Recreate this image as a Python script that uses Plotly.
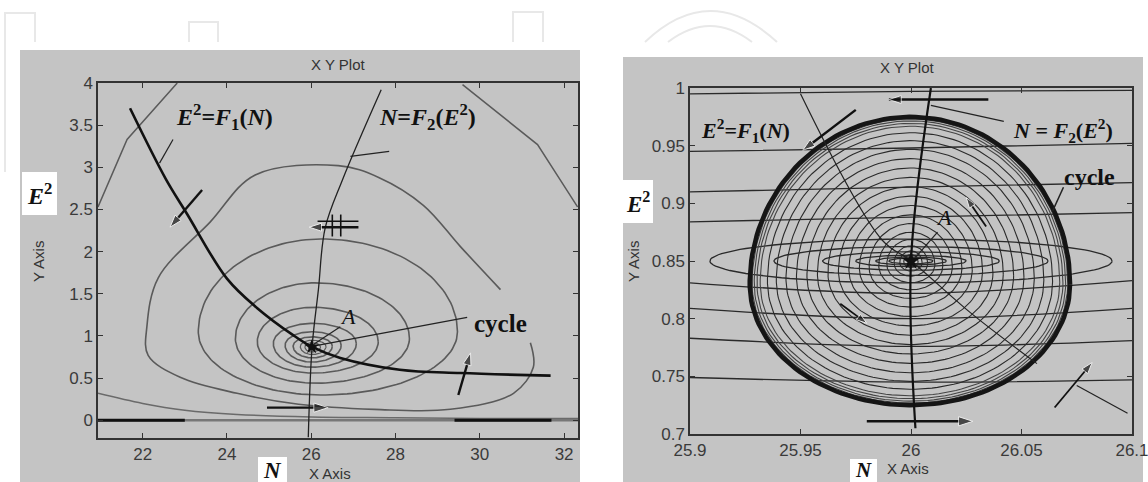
import numpy as np
import plotly.graph_objects as go

W, H = 1148, 482

# ---------------- left panel: phase plane (N, E^2) ----------------
left_xticks = [22, 24, 26, 28, 30, 32]
left_yticks = [0, 0.5, 1, 1.5, 2, 2.5, 3, 3.5, 4]
left_yticklabels = ["0", "0.5", "1", "1.5", "2", "2.5", "3", "3.5", "4"]

# null-cline E^2 = F1(N)
f1_n = [21.7, 22.55, 23.05, 24.0, 24.72, 25.57, 26.02, 26.69, 28.1, 29.54, 31.68]
f1_e = [3.70, 2.86, 2.45, 1.68, 1.33, 1.01, 0.87, 0.74, 0.60, 0.56, 0.53]
# null-cline N = F2(E^2)
f2_n = [25.93, 26.02, 26.17, 26.33, 26.74, 27.66]
f2_e = [-0.20, 0.87, 1.55, 2.28, 2.85, 3.92]

# closed trajectories around A: centre, left, right, bottom, top
loop_cx = [26.25, 26.10, 26.05, 26.03, 26.02, 26.02, 26.02, 26.01, 26.01]
loop_cy = [1.05, 0.97, 0.93, 0.91, 0.89, 0.88, 0.875, 0.87, 0.87]
loop_left = [23.32, 24.20, 24.72, 25.10, 25.38, 25.57, 25.74, 25.85, 25.93]
loop_right = [29.47, 28.33, 27.59, 27.07, 26.71, 26.50, 26.35, 26.22, 26.12]
loop_bottom = [0.30, 0.44, 0.56, 0.63, 0.69, 0.74, 0.78, 0.81, 0.84]
loop_top = [2.15, 1.63, 1.34, 1.15, 1.05, 0.99, 0.95, 0.92, 0.90]

# open trajectories
outer_left_n = [20.94, 21.63, 22.82]
outer_left_e = [2.53, 3.33, 4.0]
outer_right_n = [29.59, 31.37, 32.32]
outer_right_e = [3.98, 3.27, 2.53]
spiral_n = [30.49, 29.54, 28.66, 27.6, 26.64, 24.67, 23.6, 22.37, 22.1, 22.13,
            22.89, 24.24, 25.7, 27.5, 29.3, 30.8, 31.27, 31.2]
spiral_e = [1.55, 2.06, 2.55, 2.88, 3.02, 2.91, 2.35, 1.69, 1.11, 0.77,
            0.51, 0.32, 0.19, 0.13, 0.13, 0.32, 0.63, 0.92]
bottom_n = [20.94, 22.0, 23.0, 24.24, 26.0, 28.0, 30.0, 32.33]
bottom_e = [0.32, 0.20, 0.12, 0.07, 0.04, 0.03, 0.02, 0.02]

# ---------------- right panel: zoom on the limit cycle ----------------
right_xticks = [25.9, 25.95, 26.0, 26.05, 26.1]
right_xticklabels = ["25.9", "25.95", "26", "26.05", "26.1"]
right_yticks = [0.7, 0.75, 0.8, 0.85, 0.9, 0.95, 1.0]
right_yticklabels = ["0.7", "0.75", "0.8", "0.85", "0.9", "0.95", "1"]

# limit cycle: centre of its widest row, left, right, bottom, top
cycle_cx, cycle_cy = 26.0, 0.83
cycle_left, cycle_right = 25.927, 26.072
cycle_bottom, cycle_top = 0.725, 0.975
# relative sizes of the trajectories winding out towards the cycle
inner_scale = [0.985, 0.972, 0.955, 0.935, 0.89, 0.835, 0.775, 0.71, 0.645,
               0.58, 0.515, 0.45, 0.385, 0.32, 0.26, 0.20, 0.15, 0.105, 0.07, 0.045]

# elongated level curves around A
ell_a = [0.091, 0.062, 0.040, 0.025, 0.016, 0.010]
ell_b = [0.019, 0.0125, 0.008, 0.005, 0.0035, 0.0025]
# long, nearly horizontal level curves (height at left edge, middle, right edge)
hl_left = [0.995, 0.945, 0.910, 0.884, 0.831, 0.809, 0.783, 0.749]
hl_mid = [0.997, 0.948, 0.914, 0.888, 0.822, 0.800, 0.776, 0.745]
hl_right = [0.998, 0.952, 0.918, 0.892, 0.833, 0.809, 0.781, 0.747]

# right null-clines
r_f1_n = [25.95, 25.987, 26.0, 26.027, 26.057]
r_f1_e = [0.995, 0.868, 0.85, 0.805, 0.761]
r_f1b_n = [26.075, 26.098]
r_f1b_e = [0.742, 0.718]
r_f2_n = [26.002, 26.0, 26.009]
r_f2_e = [0.705, 0.85, 1.0]

A_left = (26.01, 0.87)
A_right = (26.0, 0.85)

# ---------------- geometry helpers ----------------
def egg(cx, cy, left, right, bottom, top, n=160):
    t = np.linspace(0, 2 * np.pi, n)
    c, s = np.cos(t), np.sin(t)
    x = cx + np.where(c >= 0, right - cx, cx - left) * c
    y = cy + np.where(s >= 0, top - cy, cy - bottom) * s
    return x, y


def ellipse(cx, cy, a, b, n=120):
    t = np.linspace(0, 2 * np.pi, n)
    return cx + a * np.cos(t), cy + b * np.sin(t)


fig = go.Figure()


def line(x, y, xa, ya, color="#555555", width=1.5, shape="spline"):
    fig.add_trace(go.Scatter(x=x, y=y, xaxis=xa, yaxis=ya, mode="lines",
                             line=dict(color=color, width=width, shape=shape,
                                       smoothing=1.0),
                             hoverinfo="skip", showlegend=False))


def arrow(xa, ya, tx, ty, hx, hy, size=13, width=2.4):
    # shaft plus a triangular head oriented along the shaft
    fig.add_trace(go.Scatter(x=[tx, hx], y=[ty, hy], xaxis=xa, yaxis=ya,
                             mode="lines+markers",
                             line=dict(color="#111111", width=width),
                             marker=dict(symbol="arrow", size=[0, size],
                                         angleref="previous",
                                         color="#111111"),
                             hoverinfo="skip", showlegend=False))


# ---- left panel traces ----
LG = "#5a5a5a"
for i in range(len(loop_cx)):
    x, y = egg(loop_cx[i], loop_cy[i], loop_left[i], loop_right[i],
               loop_bottom[i], loop_top[i])
    line(x, y, "x", "y", LG, 1.6 if i < 6 else 1.2, "linear")
line(outer_left_n, outer_left_e, "x", "y", LG, 1.5, "linear")
line(outer_right_n, outer_right_e, "x", "y", LG, 1.5, "linear")
line(spiral_n, spiral_e, "x", "y", LG, 1.6)
line(bottom_n, bottom_e, "x", "y", "#6a6a6a", 1.5)
line([20.94, 32.33], [0.0, 0.0], "x", "y", "#777777", 2.5, "linear")
line([20.94, 23.0], [0.0, 0.0], "x", "y", "#111111", 3, "linear")
line([29.4, 31.7], [0.0, 0.0], "x", "y", "#111111", 3, "linear")
line(f2_n, f2_e, "x", "y", "#222222", 1.3)
line(f1_n, f1_e, "x", "y", "#111111", 2.6)
# leader lines
line([22.72, 22.4], [3.33, 3.05], "x", "y", "#222222", 1.2, "linear")
line([27.85, 26.93], [3.19, 3.13], "x", "y", "#222222", 1.2, "linear")
line([26.69, 26.05], [1.11, 0.9], "x", "y", "#222222", 1.2, "linear")
line([29.7, 26.05], [1.22, 0.88], "x", "y", "#222222", 1.2, "linear")
# horizontal double stroke near the top of N = F2
line([26.15, 27.12], [2.36, 2.36], "x", "y", "#111111", 1.6, "linear")
line([26.5, 26.5], [2.18, 2.44], "x", "y", "#111111", 1.6, "linear")
line([26.7, 26.7], [2.18, 2.44], "x", "y", "#111111", 1.6, "linear")
fig.add_trace(go.Scatter(x=[A_left[0]], y=[A_left[1]], xaxis="x", yaxis="y",
                         mode="markers", marker=dict(size=11, color="#111111",
                                                     symbol="star"),
                         hoverinfo="skip", showlegend=False))
arrow("x", "y", 23.41, 2.73, 22.65, 2.29)
arrow("x", "y", 27.12, 2.29, 25.95, 2.29)
arrow("x", "y", 24.95, 0.15, 26.4, 0.15, 15)
arrow("x", "y", 29.49, 0.30, 29.78, 0.80)

# ---- right panel traces ----
RG = "#2a2a2a"
for i in range(len(hl_left)):
    line([25.9, 26.0, 26.1], [hl_left[i], hl_mid[i], hl_right[i]], "x2", "y2",
         RG, 1.3)
for a, b in zip(ell_a, ell_b):
    x, y = ellipse(A_right[0], A_right[1], a, b)
    line(x, y, "x2", "y2", RG, 1.3, "linear")
cx_, cy_ = egg(cycle_cx, cycle_cy, cycle_left, cycle_right, cycle_bottom, cycle_top)
for s in inner_scale:
    x = A_right[0] + s * (cx_ - A_right[0])
    y = A_right[1] + s * (cy_ - A_right[1])
    line(x, y, "x2", "y2", "#444444" if s > 0.93 else RG, 1.1, "linear")
line(cx_, cy_, "x2", "y2", "#151515", 4.5, "linear")
line(r_f1_n, r_f1_e, "x2", "y2", "#222222", 1.2)
line(r_f1b_n, r_f1b_e, "x2", "y2", "#222222", 1.2, "linear")
line(r_f2_n, r_f2_e, "x2", "y2", "#111111", 2.2)
# leader lines
line([26.042, 26.009], [0.971, 0.985], "x2", "y2", "#222222", 1.2, "linear")
line([26.069, 26.064], [0.914, 0.893], "x2", "y2", "#222222", 1.5, "linear")
line([26.012, 26.002], [0.875, 0.853], "x2", "y2", "#222222", 1.2, "linear")
fig.add_trace(go.Scatter(x=[A_right[0]], y=[A_right[1]], xaxis="x2", yaxis="y2",
                         mode="markers",
                         marker=dict(size=14, color="#111111", symbol="star"),
                         hoverinfo="skip", showlegend=False))
arrow("x2", "y2", 26.035, 0.990, 25.99, 0.990)
arrow("x2", "y2", 25.98, 0.711, 26.028, 0.711, 15)
arrow("x2", "y2", 25.975, 0.981, 25.951, 0.946)
arrow("x2", "y2", 25.968, 0.813, 25.980, 0.796, 11, 1.8)
arrow("x2", "y2", 26.034, 0.880, 26.025, 0.905, 11, 1.8)
arrow("x2", "y2", 26.065, 0.723, 26.082, 0.762, 12, 1.8)

annotations = []
SERIF = "Liberation Serif, Times New Roman, serif"
SANS = "Liberation Sans, Arial, sans-serif"


def label(text, x, y, xr, yr, size=22):
    annotations.append(dict(x=x, y=y, xref=xr, yref=yr, text=text,
                            showarrow=False,
                            font=dict(family=SERIF, size=size, color="#111111")))


label("<b><i>E</i><sup>2</sup>=<i>F</i><sub>1</sub>(<i>N</i>)</b>",
      23.95, 3.6, "x", "y", 24)
label("<b><i>N</i>=<i>F</i><sub>2</sub>(<i>E</i><sup>2</sup>)</b>",
      28.75, 3.6, "x", "y", 24)
label("<i>A</i>", 26.88, 1.23, "x", "y", 22)
label("<b>cycle</b>", 30.49, 1.15, "x", "y", 25)
label("<b><i>E</i><sup>2</sup>=<i>F</i><sub>1</sub>(<i>N</i>)</b>",
      25.925, 0.963, "x2", "y2", 22)
label("<b><i>N</i> = <i>F</i><sub>2</sub>(<i>E</i><sup>2</sup>)</b>",
      26.069, 0.963, "x2", "y2", 22)
label("<b>cycle</b>", 26.081, 0.923, "x2", "y2", 24)
label("<i>A</i>", 26.015, 0.888, "x2", "y2", 22)


# frame texts (pixel positions on the page)
def ptext(text, px, py, size=15, family=SANS, color="#333333", angle=0):
    annotations.append(dict(x=px / W, y=1 - py / H, xref="paper", yref="paper",
                            text=text, showarrow=False, textangle=angle,
                            font=dict(family=family, size=size, color=color),
                            xanchor="center", yanchor="middle"))


ptext("X Y Plot", 338, 65)
ptext("X Y Plot", 907, 68)
ptext("Y Axis", 38, 262, angle=-90)
ptext("Y Axis", 633, 262, angle=-90)
ptext("X Axis", 330, 473)
ptext("X Axis", 908, 468)
ptext("<b><i>E</i><sup>2</sup></b>", 39, 194, 24, SERIF, "#111111")
ptext("<b><i>E</i><sup>2</sup></b>", 638, 202, 23, SERIF, "#111111")
ptext("<b><i>N</i></b>", 272, 470, 23, SERIF, "#111111")
ptext("<b><i>N</i></b>", 863, 470, 21, SERIF, "#111111")


# ---------------- background shapes ----------------
def prect(x0, y0, x1, y1, fill, layer="below"):
    return dict(type="rect", xref="paper", yref="paper", x0=x0 / W, x1=x1 / W,
                y0=1 - y1 / H, y1=1 - y0 / H, fillcolor=fill,
                line=dict(width=0), layer=layer)


GRAY = "#c4c4c4"
shapes = [
    prect(20, 50, 580, 482, GRAY),
    prect(623, 57, 1143, 482, GRAY),
    prect(22, 172, 57, 215, "white"),
    prect(623, 180, 653, 223, "white"),
    prect(258, 457, 287, 482, "white"),
    prect(850, 459, 877, 482, "white"),
]


def ppath(cmds):
    out = []
    for cmd, pts in cmds:
        coords = " ".join(f"{px / W:.5f},{1 - py / H:.5f}" for px, py in pts)
        out.append(f"{cmd}{coords}")
    return " ".join(out)


# faint logo outline along the top edge
faint = dict(color="#e8e8e8", width=2)
logo = [
    [("M", [(5, 172)]), ("L", [(5, 13)]), ("L", [(35, 13)]), ("L", [(35, 42)])],
    [("M", [(189, 42)]), ("L", [(189, 22)]), ("L", [(218, 22)]), ("L", [(218, 42)])],
    [("M", [(513, 42)]), ("L", [(513, 12)]), ("L", [(543, 12)]), ("L", [(543, 42)])],
    [("M", [(645, 42)]), ("Q", [(710, -20), (777, 42)])],
    [("M", [(668, 42)]), ("Q", [(710, 10), (752, 42)])],
]
for cmds in logo:
    shapes.append(dict(type="path", xref="paper", yref="paper", path=ppath(cmds),
                       line=faint, layer="below"))

axis_common = dict(showgrid=False, zeroline=False, showline=True, mirror="ticks",
                   linecolor="#333333", linewidth=1.5, ticks="inside",
                   ticklen=5, tickwidth=1.2, tickcolor="#333333", automargin=False,
                   ticklabeloverflow="allow",
                   tickfont=dict(family=SANS, size=17, color="#3a3a3a"))

fig.update_layout(
    width=W, height=H, autosize=False,
    margin=dict(l=0, r=0, t=0, b=0, autoexpand=False),
    paper_bgcolor="white", plot_bgcolor="white",
    showlegend=False,
    xaxis=dict(domain=[98 / W, 578 / W], range=[20.94, 32.33],
               tickvals=left_xticks, anchor="y", **axis_common),
    yaxis=dict(domain=[1 - 438 / H, 1 - 83 / H], range=[-0.21, 4.0],
               tickvals=left_yticks, ticktext=left_yticklabels, anchor="x",
               **axis_common),
    xaxis2=dict(domain=[690 / W, 1132 / W], range=[25.89999, 26.10001],
                tickvals=right_xticks, ticktext=right_xticklabels, anchor="y2",
                **axis_common),
    yaxis2=dict(domain=[1 - 434 / H, 1 - 88 / H], range=[0.69999, 1.00001],
                tickvals=right_yticks, ticktext=right_yticklabels, anchor="x2",
                **axis_common),
    shapes=shapes,
    annotations=annotations,
)

# the page body has a default margin; remove it so the figure sits at the corner
fig.write_html("out.html",
               post_script="document.body.style.margin='0';"
                           "document.body.style.overflow='hidden';")
